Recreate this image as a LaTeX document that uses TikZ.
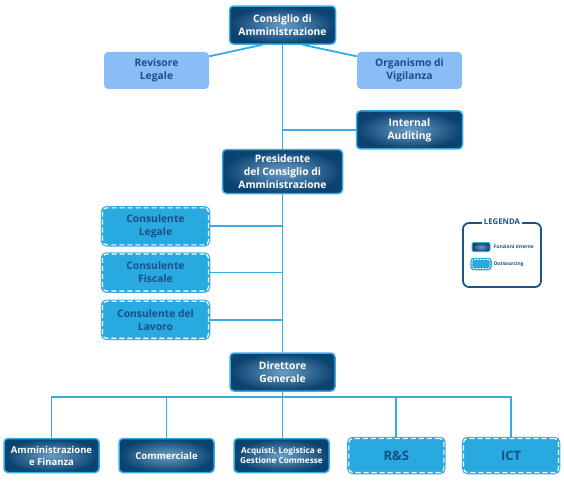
\documentclass[tikz,border=0pt]{standalone}
\usepackage{fontspec}
\setmainfont{Open Sans}
\usetikzlibrary{positioning,calc}
\definecolor{cdark}{HTML}{0A4270}
\definecolor{cdarkin}{HTML}{6A9CC4}
\definecolor{cline}{HTML}{35ACE4}
\definecolor{clight}{HTML}{8ABCF5}
\definecolor{cout}{HTML}{28AAE1}
\definecolor{ctext}{HTML}{1A4E85}
\definecolor{clegend}{HTML}{1B5485}

\begin{document}
\begin{tikzpicture}[
    x=1pt, y=1pt,
    node distance=8pt and 18.5pt,
    intern/.style={draw=cline, line width=1.5pt, rounded corners=4pt, shading=radial,
                   inner color=cdarkin, outer color=cdark, align=center, text=white,
                   minimum width=106pt, minimum height=38pt, font=\fontsize{10.3}{13}\selectfont\bfseries},
    ctrl/.style={fill=clight, rounded corners=4pt, align=center, text=ctext,
                 minimum width=105pt, minimum height=37pt, font=\fontsize{10.3}{13}\selectfont\bfseries},
    outs/.style={preaction={draw=cline, solid, line width=3.5pt}, fill=cout, draw=white,
                 dash pattern=on 5pt off 3pt, line width=1.2pt, rounded corners=4pt,
                 align=center, text=ctext, minimum width=106pt, minimum height=37pt,
                 font=\fontsize{10.3}{13}\selectfont\bfseries},
    area/.style={minimum width=95pt, minimum height=34pt, font=\fontsize{9.5}{12}\selectfont\bfseries},
    link/.style={draw=cline, line width=1.8pt}
]
\useasboundingbox (0,0) rectangle (564,-480);

\node[intern] (cda) at (282.5,-25) {Consiglio di\\Amministrazione};
\node[ctrl, below=7pt of cda, xshift=-126pt] (rev) {Revisore\\Legale};
\node[ctrl, below=7pt of cda, xshift=127pt] (odv) {Organismo di\\Vigilanza};
\node[intern, below=21pt of odv] (ia) {Internal\\Auditing};
\node[intern, below=104pt of cda, minimum width=120pt, minimum height=44pt] (pres) {Presidente\\del Consiglio di\\Amministrazione};

\node[outs, below=13pt of pres, xshift=-127pt] (cl) {Consulente\\Legale};
\node[outs, below=8pt of cl] (cf) {Consulente\\Fiscale};
\node[outs, below=9pt of cf] (clav) {Consulente del\\Lavoro};

\node[intern, below=158pt of pres, minimum width=105pt] (dg) {Direttore\\Generale};

\node[intern, area, below=46pt of dg, xshift=-231pt] (af) {Amministrazione\\e Finanza};
\node[intern, area, right=of af] (comm) {Commerciale};
\node[intern, area, right=of comm, font=\fontsize{8.2}{10.5}\selectfont\bfseries] (acq) {Acquisti, Logistica e\\Gestione Commesse};
\node[outs, area, right=of acq, font=\fontsize{13}{15}\selectfont\bfseries] (rs) {R\&S};
\node[outs, area, right=of rs, font=\fontsize{13}{15}\selectfont\bfseries] (ict) {ICT};

\node[draw=clegend, line width=1.8pt, rounded corners=6pt, minimum width=78pt, minimum height=64pt] (leg) at (502,-255) {};
\node[fill=white, text=clegend, inner sep=2pt, font=\fontsize{7.8}{9}\selectfont\bfseries] (legt) at (leg.north) {LEGENDA};
\node[intern, minimum width=18pt, minimum height=9pt, line width=1pt, rounded corners=2pt] (legi) at (481,-247) {};
\node[outs, minimum width=18pt, minimum height=9pt, line width=0.7pt, dash pattern=on 2pt off 1pt,
      preaction={draw=cline, solid, line width=1.5pt}, rounded corners=2pt] (lego) at (481,-264) {};
\node[right=3pt of legi, inner sep=0pt, text=ctext, font=\fontsize{4.9}{5}\selectfont\bfseries] (legit) {Funzioni interne};
\node[right=3pt of lego, inner sep=0pt, text=ctext, font=\fontsize{4.9}{5}\selectfont\bfseries] (legot) {Outsourcing};

\draw[link] ($(cda.south)+(-20pt,0)$) -- (rev.15);
\draw[link] ($(cda.south)+(20pt,0)$) -- (odv.165);
\draw[link] (cda) -- (pres);
\draw[link] (pres) -- (dg);
\draw[link] (ia.west) -- (ia.west -| pres.north);
\draw[link] (cl) -- (cl -| pres.south);
\draw[link] (cf) -- (cf -| pres.south);
\draw[link] (clav) -- (clav -| pres.south);
\coordinate[below=5pt of dg] (bus);
\draw[link] (dg) -- (bus);
\foreach \n in {af,comm,rs,ict}
  \draw[link] (bus) -| (\n);
\draw[link] (bus) -- (bus |- acq.north);
\end{tikzpicture}
\end{document}
